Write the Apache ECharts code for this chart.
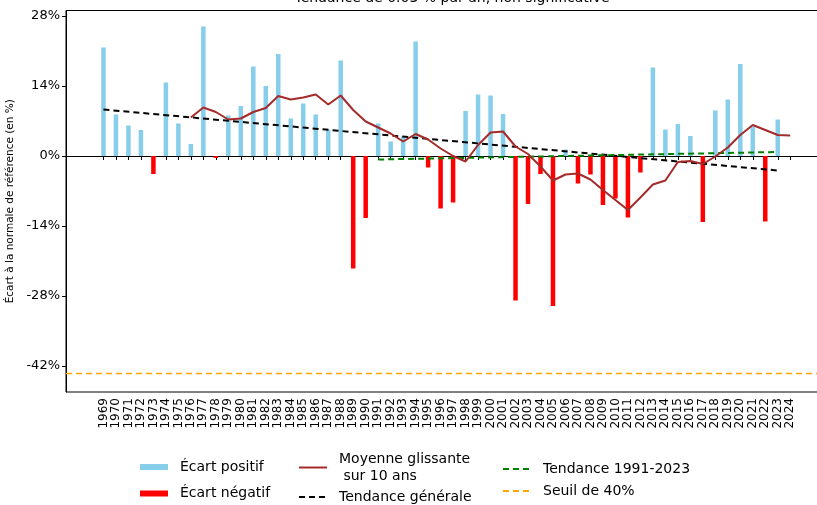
<!DOCTYPE html>
<html>
<head>
<meta charset="utf-8">
<script src="https://cdn.jsdelivr.net/npm/echarts@6/dist/echarts.min.js"></script>
<style>
  html, body { margin: 0; padding: 0; background: #fff; }
  #chart { width: 817px; height: 505px; }
</style>
</head>
<body>
<div id="chart"></div>
<script>
const years = [1969, 1970, 1971, 1972, 1973, 1974, 1975, 1976, 1977, 1978,
    1979, 1980, 1981, 1982, 1983, 1984, 1985, 1986, 1987, 1988,
    1989, 1990, 1991, 1992, 1993, 1994, 1995, 1996, 1997, 1998,
    1999, 2000, 2001, 2002, 2003, 2004, 2005, 2006, 2007, 2008,
    2009, 2010, 2011, 2012, 2013, 2014, 2015, 2016, 2017, 2018,
    2019, 2020, 2021, 2022, 2023, 2024]
// écart à la normale (%), 2024 sans valeur
const ecarts = [21.7, 8.3, 6.1, 5.2, -3.6, 14.7, 6.5, 2.4, 25.9, -0.4,
    8.1, 10.0, 17.9, 14.0, 20.4, 7.5, 10.5, 8.3, 5.2, 19.1,
    -22.5, -12.4, 6.5, 2.9, 3.9, 22.9, -2.3, -10.5, -9.3, 9.0,
    12.3, 12.1, 8.4, -28.9, -9.6, -3.6, -30.0, 1.3, -5.5, -3.7,
    -9.8, -8.5, -12.3, -3.3, 17.7, 5.3, 6.4, 4.0, -13.2, 9.1,
    11.3, 18.4, 5.9, -13.1, 7.3, null]
// moyenne glissante 10 ans, de 1976 à 2024
const moyenneDebut = 1976
const moyenne = [7.7, 9.7, 8.8, 7.3, 7.5, 8.8, 9.6, 12.0, 11.3, 11.7, 12.3, 10.3, 12.1,
    9.2, 6.9, 5.7, 4.5, 2.9, 4.4, 3.3, 1.5, 0.0, -1.1,
    2.2, 4.7, 4.9, 1.9, 0.4, -2.1, -4.9, -3.7, -3.5, -4.7,
    -6.8, -8.8, -10.8, -8.3, -5.7, -4.9, -1.2, -1.0, -1.6, -0.1,
    1.7, 4.2, 6.2, 5.2, 4.2, 4.1]
const tendanceYears = [1969, 2023]
const tendanceValues = [9.3, -2.9]
const tendance9123Years = [1991, 2023]
const tendance9123Values = [-0.7, 0.8]
const seuilYears = [1966, 2027]
const seuilValue = -43.5
const yTicks = [-42, -28, -14, 0, 14, 28]

const FONT = 'DejaVu Sans'

let positifs = []
let negatifs = []
ecarts.forEach((v, i) => {
    if (v == null) return
    if (v >= 0) positifs.push([years[i], v])
    else negatifs.push([years[i], v])
})
let moyenneData = moyenne.map((v, i) => [moyenneDebut + i, v])
let tendanceData = tendanceYears.map((y, i) => [y, tendanceValues[i]])
let tendance9123Data = tendance9123Years.map((y, i) => [y, tendance9123Values[i]])
let seuilData = seuilYears.map(y => [y, seuilValue])

let legendText = {fontSize: 14, fontFamily: FONT, color: '#000', lineHeight: 17, padding: [0, 0, 0, 7]}

let myChart = echarts.init(document.getElementById('chart'), null, {renderer: 'canvas'})

let option = {
    animation: false,
    backgroundColor: '#fff',
    textStyle: {fontFamily: FONT},
    title: {
        text: 'Tendance de 0.03 % par an, non significative',
        left: 447,
        textAlign: 'center',
        top: -14,
        textStyle: {fontFamily: FONT, fontSize: 14, fontWeight: 'normal', color: '#000'}
    },
    grid: {
        left: 66,
        top: 10.5,
        right: -10.7,
        bottom: 113,
        show: true,
        borderColor: '#000',
        borderWidth: 1,
        containLabel: false,
        outerBoundsMode: 'none'
    },
    xAxis: {
        type: 'value',
        min: 1966,
        max: 2027,
        splitLine: {show: false},
        axisLine: {lineStyle: {color: '#000', width: 1}},
        axisTick: {show: true, length: 4, customValues: years, lineStyle: {color: '#000'}},
        axisLabel: {
            customValues: years,
            rotate: 90,
            color: '#000',
            fontSize: 12,
            fontFamily: FONT,
            margin: 6,
            formatter: v => String(v)
        }
    },
    yAxis: {
        type: 'value',
        min: -47.2,
        max: 29.1,
        splitLine: {show: false},
        axisLine: {show: true, lineStyle: {color: '#000', width: 1}},
        axisTick: {show: true, length: 4, customValues: yTicks, lineStyle: {color: '#000'}},
        axisLabel: {
            customValues: yTicks,
            color: '#000',
            fontSize: 13,
            fontFamily: FONT,
            margin: 6,
            formatter: v => v + '%'
        },
        name: 'Écart à la normale de référence (en %)',
        nameLocation: 'middle',
        nameGap: 47,
        nameTextStyle: {color: '#000', fontSize: 10.5, fontFamily: FONT}
    },
    legend: [
        {
            orient: 'vertical',
            left: 140,
            top: 458.5,
            height: 60,
            padding: 0,
            itemWidth: 28,
            itemHeight: 6,
            itemGap: 9.5,
            textStyle: legendText,
            data: [
                {name: 'Écart positif', icon: 'rect'},
                {name: 'Écart négatif', icon: 'rect'}
            ]
        },
        {
            orient: 'vertical',
            left: 298,
            top: 450.5,
            height: 70,
            padding: 0,
            itemWidth: 28,
            itemHeight: 10,
            itemGap: 4,
            itemStyle: {opacity: 0},
            textStyle: legendText,
            data: ['Moyenne glissante\n sur 10 ans', 'Tendance générale']
        },
        {
            orient: 'vertical',
            left: 502,
            top: 460.5,
            height: 60,
            padding: 0,
            itemWidth: 28,
            itemHeight: 10,
            itemGap: 5,
            itemStyle: {opacity: 0},
            textStyle: legendText,
            data: ['Tendance 1991-2023', 'Seuil de 40%']
        }
    ],
    series: [
        {
            name: 'Écart positif',
            type: 'bar',
            data: positifs,
            barWidth: 4.5,
            barGap: '-100%',
            itemStyle: {color: '#87CEEB'}
        },
        {
            name: 'Écart négatif',
            type: 'bar',
            data: negatifs,
            barWidth: 4.5,
            barGap: '-100%',
            itemStyle: {color: '#FF0000'}
        },
        {
            name: 'Moyenne glissante\n sur 10 ans',
            type: 'line',
            data: moyenneData,
            symbol: 'none',
            lineStyle: {color: '#A52A2A', width: 2},
            itemStyle: {color: '#A52A2A'},
            z: 5
        },
        {
            name: 'Tendance générale',
            type: 'line',
            data: tendanceData,
            symbol: 'none',
            lineStyle: {color: '#000', width: 2, type: [6, 4]},
            itemStyle: {color: '#000'},
            z: 4
        },
        {
            name: 'Tendance 1991-2023',
            type: 'line',
            data: tendance9123Data,
            symbol: 'none',
            lineStyle: {color: '#008000', width: 2, type: [6, 4]},
            itemStyle: {color: '#008000'},
            z: 4
        },
        {
            name: 'Seuil de 40%',
            type: 'line',
            data: seuilData,
            symbol: 'none',
            lineStyle: {color: '#FFA500', width: 1.5, type: [6, 4]},
            itemStyle: {color: '#FFA500'},
            z: 4
        }
    ]
}

myChart.setOption(option)
</script>
</body>
</html>
